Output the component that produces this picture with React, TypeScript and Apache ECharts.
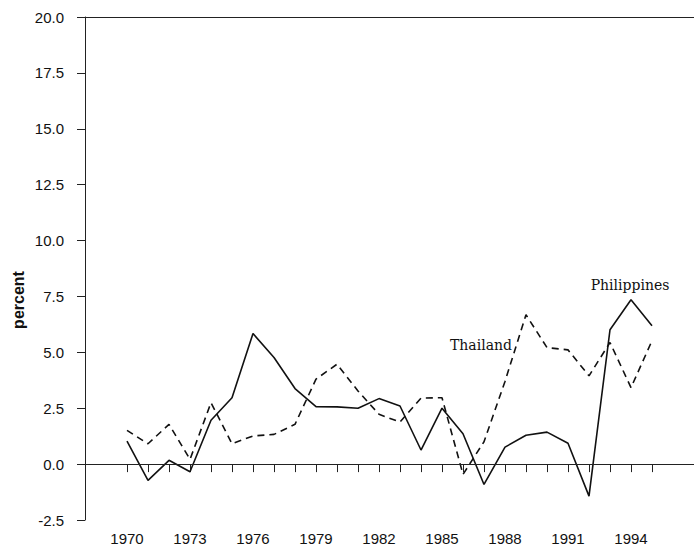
import React, { useEffect, useRef } from "react";
import * as echarts from "echarts";

const years = [1970, 1971, 1972, 1973, 1974, 1975, 1976, 1977, 1978, 1979, 1980, 1981, 1982, 1983, 1984, 1985, 1986, 1987, 1988, 1989, 1990, 1991, 1992, 1993, 1994, 1995];
const philippines = [1.03, -0.73, 0.17, -0.34, 1.96, 2.97, 5.84, 4.77, 3.38, 2.57, 2.56, 2.5, 2.93, 2.6, 0.63, 2.5, 1.36, -0.91, 0.76, 1.29, 1.43, 0.93, -1.43, 6.01, 7.35, 6.19];
const thailand = [1.51, 0.91, 1.78, 0.21, 2.75, 0.91, 1.26, 1.33, 1.78, 3.8, 4.47, 3.27, 2.23, 1.88, 2.95, 2.97, -0.46, 1.0, 3.7, 6.68, 5.21, 5.11, 3.95, 5.44, 3.42, 5.52];
const xTickYears = years;
const xLabelYears = [1970, 1973, 1976, 1979, 1982, 1985, 1988, 1991, 1994];
const yTicks = [-2.5, 0, 2.5, 5, 7.5, 10, 12.5, 15, 17.5, 20];

export default function App() {
  const ref = useRef<HTMLDivElement>(null);
  useEffect(() => {
    if (!ref.current) return;
    const chart = echarts.init(ref.current, null, { renderer: "svg" });
    const axisFont = { fontFamily: "Liberation Sans, Arial, sans-serif", fontSize: 15, color: "#111" };
    chart.setOption({
      animation: false,
      backgroundColor: "#fff",
      grid: { left: 85, right: 0, top: 17, bottom: 28, containLabel: false },
      xAxis: [
        {
          type: "value",
          min: 1968,
          max: 1997,
          position: "bottom",
          axisLine: { show: true, lineStyle: { color: "#222", width: 1 } },
          axisTick: { show: true, length: 8, customValues: xTickYears, lineStyle: { color: "#222", width: 1 } },
          axisLabel: { ...axisFont, margin: 11, customValues: xLabelYears, formatter: (v: number) => String(v) },
          splitLine: { show: false },
        },
        {
          type: "value",
          min: 1968,
          max: 1997,
          position: "top",
          axisLine: { show: true, onZero: false, lineStyle: { color: "#222", width: 1 } },
          axisTick: { show: false },
          axisLabel: { show: false },
          splitLine: { show: false },
        },
      ],
      yAxis: {
        type: "value",
        min: -2.5,
        max: 20,
        interval: 2.5,
        axisLine: { show: true, onZero: false, lineStyle: { color: "#222", width: 1 } },
        axisTick: { show: true, length: 8, lineStyle: { color: "#222", width: 1 } },
        axisLabel: { ...axisFont, margin: 21, formatter: (v: number) => (yTicks.includes(v) ? v.toFixed(1) : "") },
        splitLine: { show: false },
      },
      series: [
        {
          name: "Philippines",
          type: "line",
          data: years.map((y, i) => [y, philippines[i]]),
          showSymbol: false,
          symbol: "none",
          lineStyle: { color: "#111", width: 1.6, type: "solid" },
          markLine: {
            silent: true,
            symbol: "none",
            label: { show: false },
            lineStyle: { color: "#222", width: 1.2, type: "solid" },
            data: [{ yAxis: 0 }],
          },
        },
        {
          name: "Thailand",
          type: "line",
          data: years.map((y, i) => [y, thailand[i]]),
          showSymbol: false,
          symbol: "none",
          lineStyle: { color: "#111", width: 1.6, type: [7, 5] },
        },
      ],
      graphic: [
        {
          type: "text",
          x: 18,
          y: 300,
          rotation: Math.PI / 2,
          style: {
            text: "percent",
            font: "bold 16px Liberation Sans, Arial, sans-serif",
            fill: "#111",
            align: "center",
            verticalAlign: "middle",
          },
        },
        {
          type: "text",
          x: 630,
          y: 285,
          style: {
            text: "Philippines",
            font: "14px DejaVu Serif, serif",
            fill: "#111",
            align: "center",
            verticalAlign: "middle",
          },
        },
        {
          type: "text",
          x: 481,
          y: 345,
          style: {
            text: "Thailand",
            font: "14px DejaVu Serif, serif",
            fill: "#111",
            align: "center",
            verticalAlign: "middle",
          },
        },
      ],
    });
    return () => chart.dispose();
  }, []);
  return <div ref={ref} style={{ position: "fixed", left: 0, top: 0, width: 694, height: 548 }} />;
}
